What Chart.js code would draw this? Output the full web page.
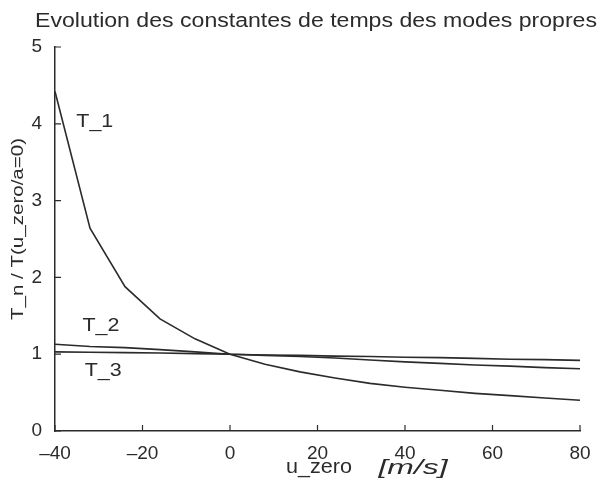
<!DOCTYPE html>
<html>
<head>
<meta charset="utf-8">
<script src="https://cdn.jsdelivr.net/npm/chart.js@4/dist/chart.umd.min.js"></script>
<style>
  html, body { margin: 0; padding: 0; background: #fff; }
  #wrap { width: 599px; height: 490px; }
</style>
</head>
<body>
<div id="wrap"><canvas id="myChart" width="599" height="490"></canvas></div>
<script>
// données
const uZero = [-40, -32, -24, -16, -8, 0, 8, 16, 24, 32, 40, 48, 56, 64, 72, 80];
const T1 = [4.42, 2.64, 1.88, 1.46, 1.20, 1.00, 0.87, 0.77, 0.69, 0.62, 0.57, 0.53, 0.49, 0.46, 0.43, 0.40];
const T2 = [1.13, 1.10, 1.085, 1.06, 1.03, 1.00, 0.985, 0.97, 0.95, 0.925, 0.90, 0.88, 0.86, 0.845, 0.825, 0.81];
const T3 = [1.03, 1.025, 1.02, 1.015, 1.008, 1.00, 0.99, 0.985, 0.975, 0.97, 0.96, 0.955, 0.945, 0.935, 0.93, 0.92];
const seriesNames = ['T_1', 'T_2', 'T_3'];
// position des étiquettes T_n (en unités des axes)
const labelX = [-30.9, -29.5, -29.0];
const labelY = [4.02, 1.37, 0.79];

const ink = '#2b2b2b';
const fontFam = '"Liberation Sans", Arial, sans-serif';

const toPoints = (ys) => uZero.map((x, i) => ({ x: x, y: ys[i] }));

// le texte de la figure scannée est plus large que Liberation Sans : on l'étire
function drawWide(ctx, text, cx, cy, width, font, angle) {
  ctx.save();
  ctx.font = font;
  const w = ctx.measureText(text).width;
  ctx.translate(cx, cy);
  if (angle) ctx.rotate(angle);
  ctx.scale(width / w, 1);
  ctx.textAlign = 'center';
  ctx.textBaseline = 'middle';
  ctx.fillText(text, 0, 0);
  ctx.restore();
}

// titre, petits traits vers l'intérieur, étiquettes T_n, titres des axes
const extras = {
  id: 'extras',
  afterDraw(chart) {
    const ctx = chart.ctx;
    const xs = chart.scales.x, ys = chart.scales.y;
    const a = chart.chartArea;
    ctx.save();
    ctx.strokeStyle = ink;
    ctx.lineWidth = 1.2;
    ctx.beginPath();
    ys.ticks.forEach(t => {
      const p = ys.getPixelForValue(t.value);
      ctx.moveTo(a.left, p); ctx.lineTo(a.left + 6, p);
    });
    xs.ticks.forEach(t => {
      const p = xs.getPixelForValue(t.value);
      ctx.moveTo(p, a.bottom); ctx.lineTo(p, a.bottom - 6);
    });
    ctx.stroke();

    ctx.fillStyle = ink;
    drawWide(ctx, 'Evolution des constantes de temps des modes propres', 316, 21, 562, '20px ' + fontFam);

    seriesNames.forEach((n, i) => {
      drawWide(ctx, n, xs.getPixelForValue(labelX[i]), ys.getPixelForValue(labelY[i]), 37, '19px ' + fontFam);
    });

    drawWide(ctx, 'u_zero', 319, 467, 66, '20px ' + fontFam);
    drawWide(ctx, '[m/s]', 413, 468, 69, 'italic 20px ' + fontFam);
    drawWide(ctx, 'T_n / T(u_zero/a=0)', 19, 229, 182, '16px ' + fontFam, -Math.PI / 2);
    ctx.restore();
  }
};

new Chart(document.getElementById('myChart').getContext('2d'), {
  type: 'line',
  data: {
    datasets: [T1, T2, T3].map((s, i) => ({
      label: seriesNames[i],
      data: toPoints(s),
      borderColor: ink,
      borderWidth: 1.6,
      pointRadius: 0,
      tension: 0,
      fill: false
    }))
  },
  options: {
    responsive: false,
    animation: false,
    layout: { padding: { left: 0, right: 19, top: 47, bottom: 0 } },
    plugins: {
      legend: { display: false },
      tooltip: { enabled: false },
      title: { display: false }
    },
    scales: {
      x: {
        type: 'linear',
        min: -40,
        max: 80,
        ticks: { stepSize: 20, color: ink, font: { family: fontFam, size: 19 }, padding: 3,
                 callback: (v) => v < 0 ? '\u2013' + Math.abs(v) : String(v) },
        grid: { display: false },
        border: { display: true, color: ink, width: 1.5 },
        afterFit: (s) => { s.height = 59; }
      },
      y: {
        min: 0,
        max: 5,
        ticks: { stepSize: 1, color: ink, font: { family: fontFam, size: 19 }, padding: 5 },
        grid: { display: false },
        border: { display: true, color: ink, width: 1.5 },
        afterFit: (s) => { s.width = 55; }
      }
    }
  },
  plugins: [extras]
});
</script>
</body>
</html>
